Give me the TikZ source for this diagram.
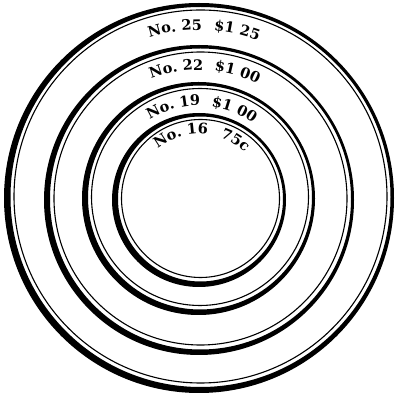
\documentclass[tikz,border=0pt]{standalone}
\usepackage{fontspec}
\newfontfamily\ringfont{DejaVu Serif}
\usetikzlibrary{decorations.text}
\begin{document}
\begin{tikzpicture}[x=1pt,y=1pt,
  crescent/.style={fill=black,even odd rule},
  thinring/.style={draw=black,line width=1.1pt},
  ringtext/.style={decorate,decoration={text along path,text align=center,text={#1}}}]
\useasboundingbox[fill=white] (0,0) rectangle (394,396);
% ring No. 25
\fill[crescent] (199,198) circle[radius=195pt] (200.5,199) circle[radius=190pt];
\draw[thinring] (200.5,199.5) circle[radius=186.5pt];
% ring No. 22
\fill[crescent] (199,196) circle[radius=155pt] (200.5,197) circle[radius=150.5pt];
\draw[thinring] (200.5,197.5) circle[radius=146.5pt];
% ring No. 19
\fill[crescent] (198.5,197.5) circle[radius=116.5pt] (200,198.5) circle[radius=112pt];
\draw[thinring] (200,199) circle[radius=108.5pt];
% ring No. 16
\fill[crescent] (199,196) circle[radius=87pt] (200.5,197) circle[radius=82.5pt];
\draw[thinring] (200.5,197.5) circle[radius=79pt];
% labels
\path[ringtext={|\ringfont\bfseries\fontsize{14.5}{14.5}\selectfont|No. 25{\kern12pt}{\$}1 25}]
  ([shift={(133.3:168pt)}]199,198) arc[start angle=133.3,end angle=43.3,radius=168pt];
\path[ringtext={|\ringfont\bfseries\fontsize{14.5}{14.5}\selectfont|No. 22{\kern11pt}{\$}1 00}]
  ([shift={(137.4:130pt)}]199,196) arc[start angle=137.4,end angle=37.4,radius=130pt];
\path[ringtext={|\ringfont\bfseries\fontsize{14.5}{14.5}\selectfont|No. 19{\kern11pt}{\$}1 00}]
  ([shift={(147.9:93pt)}]198.5,197.5) arc[start angle=147.9,end angle=27.9,radius=93pt];
\path[ringtext={|\ringfont\bfseries\fontsize{14.5}{14.5}\selectfont|No. 16{\kern13pt}75c}]
  ([shift={(162.4:66pt)}]199,196) arc[start angle=162.4,end angle=12.4,radius=66pt];
\end{tikzpicture}
\end{document}
